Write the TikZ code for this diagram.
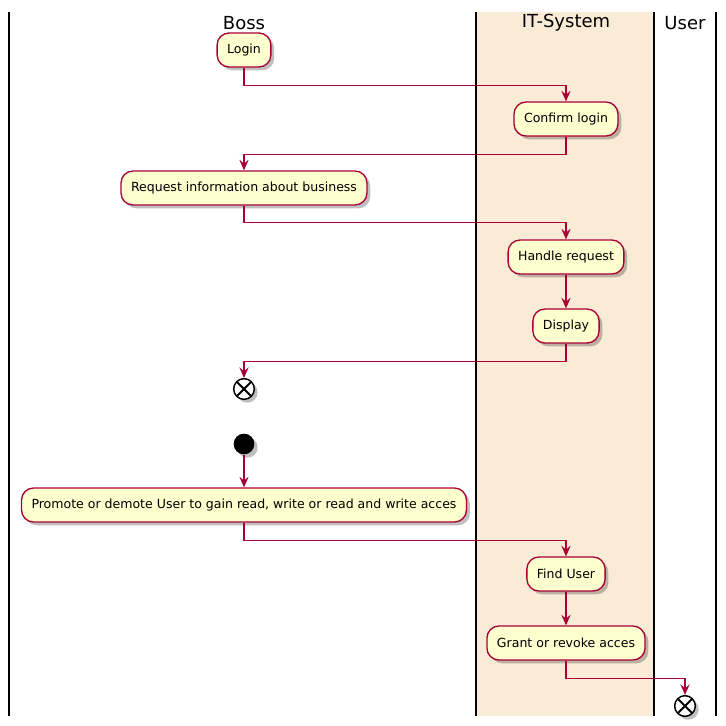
\documentclass[tikz,border=0pt]{standalone}
\usepackage{fontspec}
\setmainfont{DejaVu Sans}
\usepackage{xcolor}
\usepackage{tikz}
\usetikzlibrary{arrows.meta, shadows}
\definecolor{flowred}{HTML}{A80036}
\definecolor{actfill}{HTML}{FEFECE}
\definecolor{lanefill}{HTML}{FAEBD7}
\tikzstyle{activity} = [rectangle, rounded corners=9pt,
minimum height=25.5pt,
inner xsep=7.5pt,
text centered,
font=\fontsize{9.4}{11}\selectfont,
draw=flowred,
line width=1pt,
fill=actfill,
drop shadow={shadow xshift=2.5pt, shadow yshift=-2.5pt, opacity=0.25, fill=black}]
\tikzstyle{startdot} = [circle,
minimum size=15.5pt,
inner sep=0pt,
fill=black,
drop shadow={shadow xshift=2.5pt, shadow yshift=-2.5pt, opacity=0.25, fill=black}]
\tikzstyle{enddot} = [circle,
minimum size=15.5pt,
inner sep=0pt,
draw=black,
line width=1.1pt,
fill=white,
drop shadow={shadow xshift=2.5pt, shadow yshift=-2.5pt, opacity=0.25, fill=black},
path picture={\draw[line width=1.5pt] (path picture bounding box.center) ++(-5pt,-5pt) -- ++(10pt,10pt)
(path picture bounding box.center) ++(-5pt,5pt) -- ++(10pt,-10pt);}]
\tikzstyle{lanetitle} = [font=\fontsize{13.5}{16}\selectfont]
\tikzstyle{laneline} = [line width=1.5pt]
\tikzstyle{arrow} = [line width=0.85pt, draw=flowred, ->, >={Stealth[length=8pt, width=7pt, inset=3pt]}]

\begin{document}
\begin{tikzpicture}[x=0.75pt, y=-0.75pt, node distance=51.75pt]
\useasboundingbox (0,0) rectangle (726,726);

% swimlanes
\fill [lanefill] (476,12) rectangle (654,716);
\draw [laneline] (9,12) -- (9,716);
\draw [laneline] (476,12) -- (476,716);
\draw [laneline] (654,12) -- (654,716);
\draw [laneline] (716,12) -- (716,716);
\node (bosstitle) [lanetitle] at (244,23) {Boss};
\node (ittitle) [lanetitle] at (566,23) {IT-System};
\node (usertitle) [lanetitle] at (685,23) {User};

\node (login) [activity] at (244,50) {Login};
\node (confirm) [activity, below of=login, xshift=241.5pt] {Confirm login};
\node (request) [activity, below of=confirm, xshift=-241.5pt] {Request information about business};
\node (handle) [activity, below of=request, xshift=241.5pt] {Handle request};
\node (display) [activity, below of=handle] {Display};
\node (end1) [enddot, node distance=47.25pt, below of=display, xshift=-241.5pt] {};

\node (start) [startdot, node distance=41.25pt, below of=end1] {};
\node (promote) [activity, node distance=45.75pt, below of=start] {Promote or demote User to gain read, write or read and write acces};
\node (find) [activity, below of=promote, xshift=241.5pt] {Find User};
\node (grant) [activity, below of=find] {Grant or revoke acces};
\node (end2) [enddot, node distance=47.25pt, below of=grant, xshift=89.25pt] {};

\draw [arrow] (login.south) -- ++(0,18) -| (confirm.north);
\draw [arrow] (confirm.south) -- ++(0,18) -| (request.north);
\draw [arrow] (request.south) -- ++(0,17) -| (handle.north);
\draw [arrow] (handle) -- (display);
\draw [arrow] (display.south) -- ++(0,18) -| (end1.north);

\draw [arrow] (start) -- (promote);
\draw [arrow] (promote.south) -- ++(0,18) -| (find.north);
\draw [arrow] (find) -- (grant);
\draw [arrow] (grant.south) -- ++(0,18) -| (end2.north);

\end{tikzpicture}
\end{document}
